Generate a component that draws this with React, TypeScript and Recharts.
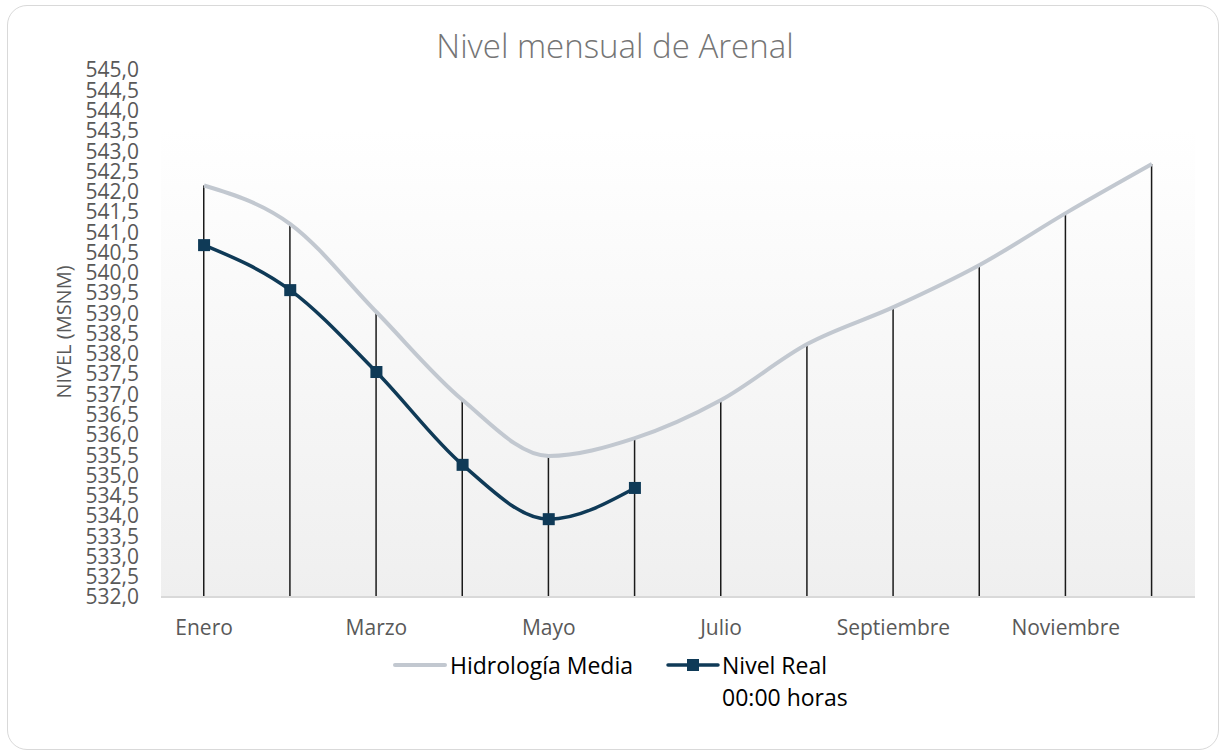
import { ComposedChart, Line, Bar, XAxis, YAxis } from "recharts";

const months = [
  "Enero",
  "Febrero",
  "Marzo",
  "Abril",
  "Mayo",
  "Junio",
  "Julio",
  "Agosto",
  "Septiembre",
  "Octubre",
  "Noviembre",
  "Diciembre",
];

const hidrologiaMedia = [542.15, 541.2, 539.03, 536.86, 535.48, 535.92, 536.86, 538.24, 539.15, 540.19, 541.47, 542.68];

const nivelReal = [540.68, 539.57, 537.55, 535.26, 533.92, 534.69];

const yTicks = [
  532, 532.5, 533, 533.5, 534, 534.5, 535, 535.5, 536, 536.5, 537, 537.5, 538, 538.5, 539, 539.5, 540, 540.5,
  541, 541.5, 542, 542.5, 543, 543.5, 544, 544.5, 545,
];

const FONT = "'Open Sans', sans-serif";
const HIDRO_COLOR = "#c2c8d0";
const REAL_COLOR = "#0f3a57";

const data = months.map((m, i) => ({
  month: m,
  hidro: hidrologiaMedia[i],
  real: i < nivelReal.length ? nivelReal[i] : null,
  drop: Math.max(hidrologiaMedia[i], i < nivelReal.length ? nivelReal[i] : -Infinity),
}));

const fmt = (v: number) => v.toFixed(1).replace(".", ",");

function SquareDot(props: any) {
  const { cx, cy } = props;
  if (cx == null || cy == null) return null;
  return <rect x={cx - 6} y={cy - 6} width={12} height={12} fill={REAL_COLOR} />;
}

export default function App() {
  return (
    <div style={{ position: "absolute", left: 0, top: 0, width: 1222, height: 755, background: "#fff", fontFamily: FONT }}>
      <div
        style={{
          position: "absolute",
          left: 7,
          top: 5,
          width: 1210,
          height: 743,
          border: "1px solid #d9d9d9",
          borderRadius: 20,
        }}
      />
      <div
        style={{
          position: "absolute",
          left: 0,
          width: 1222,
          top: 23,
          textAlign: "center",
          fontSize: 33,
          fontWeight: 300,
          color: "#757575",
          paddingLeft: 8,
          boxSizing: "border-box",
        }}
      >
        Nivel mensual de Arenal
      </div>
      <div
        style={{
          position: "absolute",
          left: 63,
          top: 332,
          transform: "translate(-50%, -50%) rotate(-90deg)",
          fontSize: 20,
          color: "#595959",
          whiteSpace: "nowrap",
        }}
      >
        NIVEL (MSNM)
      </div>
      <div style={{ position: "absolute", left: 0, top: 0 }}>
        <ComposedChart
          width={1222}
          height={755}
          data={data}
          margin={{ top: 70, right: 27, bottom: 128, left: 0 }}
          barCategoryGap={0}
        >
          <defs>
            <linearGradient id="plotBg" x1="0" y1="0" x2="0" y2="1">
              <stop offset="0%" stopColor="#ffffff" />
              <stop offset="100%" stopColor="#efefef" />
            </linearGradient>
          </defs>
          <rect x={161} y={129} width={1034} height={468} fill="url(#plotBg)" />
          <XAxis
            dataKey="month"
            interval={1}
            tickLine={false}
            axisLine={{ stroke: "#d9d9d9", strokeWidth: 2 }}
            height={30}
            tick={{ fill: "#595959", fontSize: 21, fontFamily: FONT }}
            tickMargin={17}
          />
          <YAxis
            domain={[532, 545]}
            ticks={yTicks}
            interval={0}
            width={161}
            tickLine={false}
            tickSize={0}
            axisLine={false}
            tickMargin={22}
            tickFormatter={fmt}
            tick={{ fill: "#595959", fontSize: 21, fontFamily: FONT }}
          />
          <Bar dataKey="drop" barSize={1.5} fill="#1a1a1a" isAnimationActive={false} />
          <Line
            type="monotone"
            dataKey="hidro"
            stroke={HIDRO_COLOR}
            strokeWidth={4}
            dot={false}
            activeDot={false}
            isAnimationActive={false}
          />
          <Line
            type="monotone"
            dataKey="real"
            stroke={REAL_COLOR}
            strokeWidth={3.5}
            dot={<SquareDot />}
            activeDot={false}
            connectNulls={false}
            isAnimationActive={false}
          />
        </ComposedChart>
      </div>
      <div style={{ position: "absolute", left: 393, top: 649, display: "flex", alignItems: "flex-start", fontSize: 23, color: "#000" }}>
        <div style={{ display: "flex", alignItems: "center", height: 32 }}>
          <svg width={54} height={12}>
            <line x1={2} y1={6} x2={52} y2={6} stroke={HIDRO_COLOR} strokeWidth={4} strokeLinecap="round" />
          </svg>
          <span style={{ marginLeft: 3 }}>Hidrología Media</span>
        </div>
        <div style={{ display: "flex", alignItems: "flex-start", marginLeft: 33 }}>
          <svg width={54} height={32}>
            <line x1={2} y1={16} x2={52} y2={16} stroke={REAL_COLOR} strokeWidth={3.5} strokeLinecap="round" />
            <rect x={21} y={10} width={12} height={12} fill={REAL_COLOR} />
          </svg>
          <span style={{ marginLeft: 2, lineHeight: "32px" }}>
            Nivel Real
            <br />
            00:00 horas
          </span>
        </div>
      </div>
    </div>
  );
}
